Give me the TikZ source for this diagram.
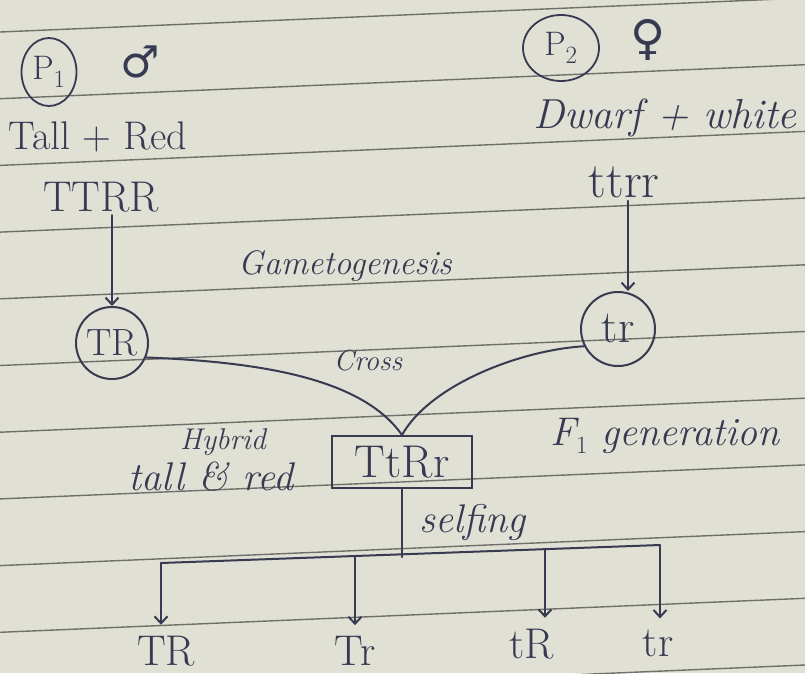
\documentclass[tikz,border=0pt]{standalone}
\usepackage{fontspec}
\usetikzlibrary{arrows.meta,shapes.geometric}
\newfontfamily\symfont{DejaVu Sans}
\definecolor{paper}{RGB}{224,224,213}
\definecolor{rulegray}{RGB}{112,112,106}
\definecolor{ink}{RGB}{56,58,82}

\tikzset{
  hand/.style={ink,font=\fontsize{40}{44}\selectfont},
  cursive/.style={ink,font=\fontsize{40}{44}\selectfont\itshape},
  inkline/.style={ink,line width=2pt,line cap=round},
  parent/.style={hand,draw=ink,ellipse,line width=1.8pt,inner sep=0pt,
    font=\fontsize{34}{36}\selectfont},
  gamete/.style={hand,draw=ink,circle,line width=2pt,inner sep=0pt,
    minimum size=72pt,font=\fontsize{38}{40}\selectfont},
  genotype/.style={hand,font=\fontsize{43}{46}\selectfont,inner sep=3pt},
}

\begin{document}
\begin{tikzpicture}[x=1pt,y=-1pt,>={Straight Barb[length=7pt,width=13pt]}]
  % --- page: paper and ruled lines ---
  \useasboundingbox (0,0) rectangle (805,673);
  \fill[paper] (0,0) rectangle (805,673);
  \clip (0,0) rectangle (805,673);
  \foreach \i in {0,...,10}
    \draw[rulegray,line width=1.4pt] (0,{32+66.7*\i}) -- (805,{-2+66.7*\i});

  % --- parents ---
  \node[parent,minimum width=55pt,minimum height=68pt] (P1) at (49,72)
    {$\mathrm{P}_1$};
  \node[ink,font=\symfont\fontsize{44}{48}\selectfont] (male) at (140,62) {♂};
  \node[parent,minimum width=76pt,minimum height=66pt] (P2) at (561,48)
    {$\mathrm{P}_2$};
  \node[ink,font=\symfont\fontsize{48}{52}\selectfont] (female) at (648,40) {♀};

  \node[hand] (pheno1) at (98,137) {Tall + Red};
  \node[cursive,font=\fontsize{42}{46}\selectfont\itshape] (pheno2) at (665,118)
    {Dwarf + white};
  \node[genotype] (TTRR) at (101,197) {TTRR};
  \node[genotype,font=\fontsize{50}{54}\selectfont] (ttrr) at (624,182) {ttrr};

  % --- gametes ---
  \node[cursive,font=\fontsize{34}{38}\selectfont\itshape] (gameto) at (345,266)
    {Gametogenesis};
  \node[gamete] (TRg) at (112,343) {TR};
  \node[gamete,minimum size=74pt,font=\fontsize{46}{48}\selectfont] (trg)
    at (618,329) {tr};
  \draw[inkline,->] (TRg.north |- TTRR.south) -- (TRg.north);
  \draw[inkline,->] ([xshift=10pt]trg.north |- ttrr.south) -- ([xshift=10pt]trg.north);

  % --- cross and hybrid ---
  \node[cursive,font=\fontsize{29}{32}\selectfont\itshape] (cross) at (368,361) {Cross};
  \node[hand,draw=ink,line width=2pt,minimum width=140pt,minimum height=52pt,
    font=\fontsize{46}{48}\selectfont,inner sep=0pt] (hyb) at (402,462) {TtRr};
  \draw[inkline] (TRg.-23) .. controls (260,362) and (362,378) .. (hyb.north);
  \draw[inkline] (trg.207) .. controls (520,350) and (430,385) .. (hyb.north);

  \node[cursive,font=\fontsize{30}{32}\selectfont\itshape] (hybrid) at (223,442) {Hybrid};
  \node[cursive] (hybpheno) at (211,477) {tall \& red};
  \node[cursive] (F1) at (665,436) {F$_1$ generation};

  % --- selfing: F1 splits into four gamete types ---
  \coordinate (split) at (400,557);
  \coordinate (a1) at (161,563);
  \coordinate (a2) at (355,556);
  \coordinate (a3) at (545,549);
  \coordinate (a4) at (660,545);
  \node[cursive] (self) at (472,522) {selfing};
  \draw[inkline] (hyb.south) -- (hyb.south |- split);
  \draw[inkline] (a1) -- (a4);

  \node[genotype] (oTR) at (166,651) {TR};
  \node[genotype] (oTr) at (355,651) {Tr};
  \node[genotype] (otR) at (532,644) {tR};
  \node[genotype] (otr) at (658,643) {tr};
  \draw[inkline,->,shorten >=8pt] (a1) -- (a1 |- oTR.north);
  \draw[inkline,->,shorten >=8pt] (a2) -- (a2 |- oTr.north);
  \draw[inkline,->,shorten >=8pt] (a3) -- (a3 |- otR.north);
  \draw[inkline,->,shorten >=8pt] (a4) -- (a4 |- otr.north);
\end{tikzpicture}
\end{document}
